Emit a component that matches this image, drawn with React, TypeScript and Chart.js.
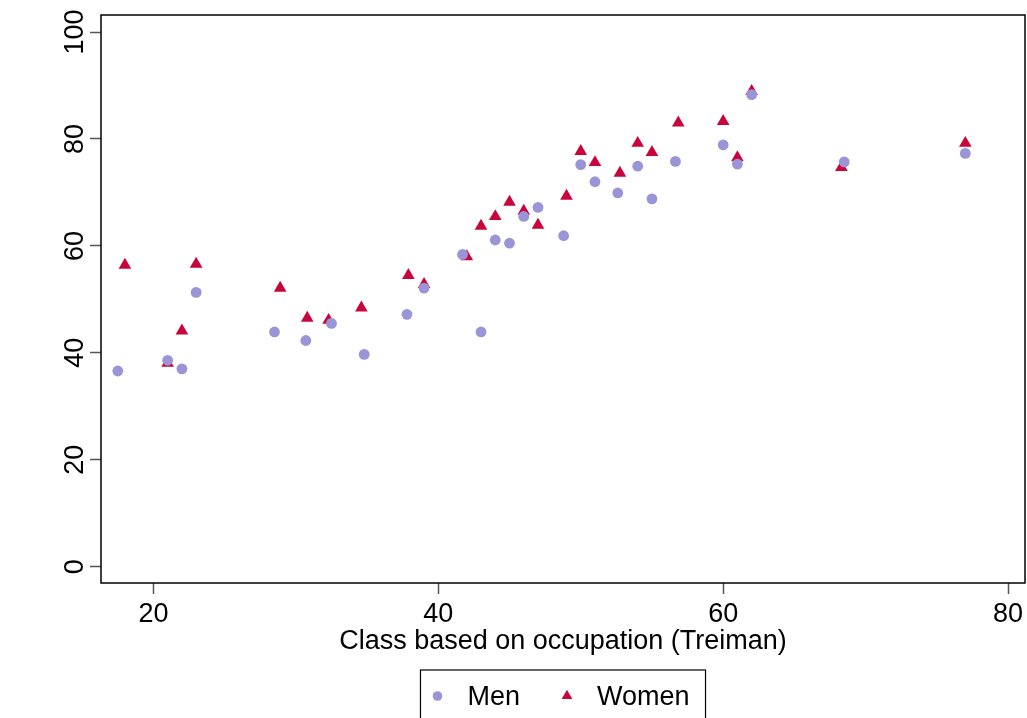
import React, { useEffect, useRef } from 'react';
import { Chart, registerables } from 'chart.js';

Chart.register(...registerables);

// Treiman class vs. percentage, men and women
const menX = [17.5, 21, 22, 23, 28.5, 30.7, 32.5, 34.8, 37.8, 39, 41.7, 43, 44, 45, 46, 47, 48.8, 50, 51, 52.6, 54, 55, 56.65, 60, 61, 62, 68.5, 77];
const menY = [36.6, 38.6, 37.0, 51.3, 43.9, 42.3, 45.5, 39.7, 47.2, 52.1, 58.4, 43.9, 61.1, 60.5, 65.5, 67.2, 61.9, 75.2, 72.0, 69.9, 74.9, 68.8, 75.8, 78.9, 75.3, 88.3, 75.7, 77.3];
const womenX = [18, 21, 22, 23, 28.9, 30.8, 32.3, 34.6, 37.9, 39, 42, 43, 44, 45, 46, 47, 49, 50, 51, 52.75, 54, 55, 56.85, 60, 61, 62, 68.3, 77];
const womenY = [56.4, 38.1, 44.1, 56.6, 52.1, 46.5, 46.1, 48.4, 54.5, 52.8, 58.0, 63.7, 65.5, 68.2, 66.5, 63.9, 69.3, 77.7, 75.6, 73.6, 79.2, 77.5, 83.0, 83.3, 76.5, 88.9, 74.7, 79.2];

const xTicks = [20, 40, 60, 80];
const yTicks = [0, 20, 40, 60, 80, 100];
const seriesNames = ['Men', 'Women'];
const seriesColors = ['#9a95d6', '#c8063c'];
const xTitle = 'Class based on occupation (Treiman)';

const FONT = "'Liberation Sans', Arial, sans-serif";
const FONT_SIZE = 27;

const frameAndLegend = {
  id: 'frameAndLegend',
  afterDraw(chart: Chart) {
    const { ctx, chartArea } = chart;
    ctx.save();
    ctx.strokeStyle = '#000';
    ctx.lineWidth = 1.5;
    ctx.strokeRect(chartArea.left, chartArea.top, chartArea.right - chartArea.left, chartArea.bottom - chartArea.top);

    // boxed legend under the axis title
    ctx.font = `${FONT_SIZE}px ${FONT}`;
    const w0 = ctx.measureText(seriesNames[0]).width;
    const w1 = ctx.measureText(seriesNames[1]).width;
    const boxW = 17 + 30 + w0 + 47 + 30 + w1 + 16;
    const cx = (chartArea.left + chartArea.right) / 2;
    const left = cx - boxW / 2;
    const top = 670;
    ctx.lineWidth = 1.2;
    ctx.strokeRect(left, top, boxW, 80);

    const markY = 696;
    ctx.fillStyle = seriesColors[0];
    ctx.beginPath();
    ctx.arc(left + 17, markY, 4.8, 0, Math.PI * 2);
    ctx.fill();
    const m2 = left + 17 + 30 + w0 + 47;
    ctx.fillStyle = seriesColors[1];
    ctx.beginPath();
    const r = 6.2;
    ctx.moveTo(m2, markY - r);
    ctx.lineTo(m2 + r * 0.866, markY + r / 2);
    ctx.lineTo(m2 - r * 0.866, markY + r / 2);
    ctx.closePath();
    ctx.fill();

    ctx.fillStyle = '#000';
    ctx.textBaseline = 'alphabetic';
    ctx.textAlign = 'left';
    ctx.fillText(seriesNames[0], left + 17 + 30, 705);
    ctx.fillText(seriesNames[1], m2 + 30, 705);
    ctx.restore();
  },
};

const ScatterChart: React.FC = () => {
  const canvasRef = useRef<HTMLCanvasElement>(null);
  const chartRef = useRef<Chart | null>(null);

  useEffect(() => {
    if (!canvasRef.current) return;
    if (chartRef.current) chartRef.current.destroy();
    const ctx = canvasRef.current.getContext('2d');
    if (!ctx) return;

    chartRef.current = new Chart(ctx, {
      type: 'scatter',
      data: {
        datasets: [
          {
            label: seriesNames[0],
            data: menX.map((x, i) => ({ x, y: menY[i] })),
            pointStyle: 'circle',
            pointRadius: 5.4,
            backgroundColor: seriesColors[0],
            borderWidth: 0,
          },
          {
            label: seriesNames[1],
            data: womenX.map((x, i) => ({ x, y: womenY[i] })),
            pointStyle: 'triangle',
            pointRadius: 7.3,
            backgroundColor: seriesColors[1],
            borderWidth: 0,
          },
        ],
      },
      options: {
        animation: false,
        responsive: false,
        layout: { autoPadding: false, padding: { top: 15, right: 2, left: 0, bottom: 0 } },
        plugins: {
          legend: { display: false },
          tooltip: { enabled: false },
        },
        scales: {
          x: {
            type: 'linear',
            min: 16.32,
            max: 81.19,
            afterBuildTicks: (scale: any) => {
              scale.ticks = xTicks.map((v) => ({ value: v }));
            },
            afterFit: (scale: any) => {
              scale.height = 135;
              scale.paddingLeft = 0;
              scale.paddingRight = 0;
            },
            ticks: {
              autoSkip: false,
              maxRotation: 0,
              padding: 4,
              color: '#000',
              font: { family: FONT, size: FONT_SIZE },
            },
            grid: {
              drawOnChartArea: false,
              drawTicks: true,
              tickLength: 11,
              tickColor: '#555',
              tickWidth: 1.5,
            },
            border: { display: false },
            title: {
              display: true,
              text: xTitle,
              color: '#000',
              font: { family: FONT, size: FONT_SIZE },
              padding: { top: 0, bottom: 60 },
            },
          },
          y: {
            type: 'linear',
            min: -3.05,
            max: 103.18,
            afterBuildTicks: (scale: any) => {
              scale.ticks = yTicks.map((v) => ({ value: v }));
            },
            afterFit: (scale: any) => {
              scale.width = 101;
              scale.paddingTop = 0;
              scale.paddingBottom = 0;
            },
            ticks: {
              autoSkip: false,
              minRotation: 90,
              maxRotation: 90,
              crossAlign: 'center',
              padding: -8,
              color: '#000',
              font: { family: FONT, size: FONT_SIZE },
            },
            grid: {
              drawOnChartArea: false,
              drawTicks: true,
              tickLength: 11,
              tickColor: '#555',
              tickWidth: 1.5,
            },
            border: { display: false },
          },
        },
      },
      plugins: [frameAndLegend],
    });

    return () => {
      if (chartRef.current) {
        chartRef.current.destroy();
        chartRef.current = null;
      }
    };
  }, []);

  return (
    <div style={{ position: 'absolute', left: 0, top: 0, width: 1027, height: 718, background: '#fff' }}>
      <canvas ref={canvasRef} width={1027} height={718} style={{ display: 'block', width: 1027, height: 718 }}></canvas>
    </div>
  );
};

export default function App() {
  return <ScatterChart />;
}
